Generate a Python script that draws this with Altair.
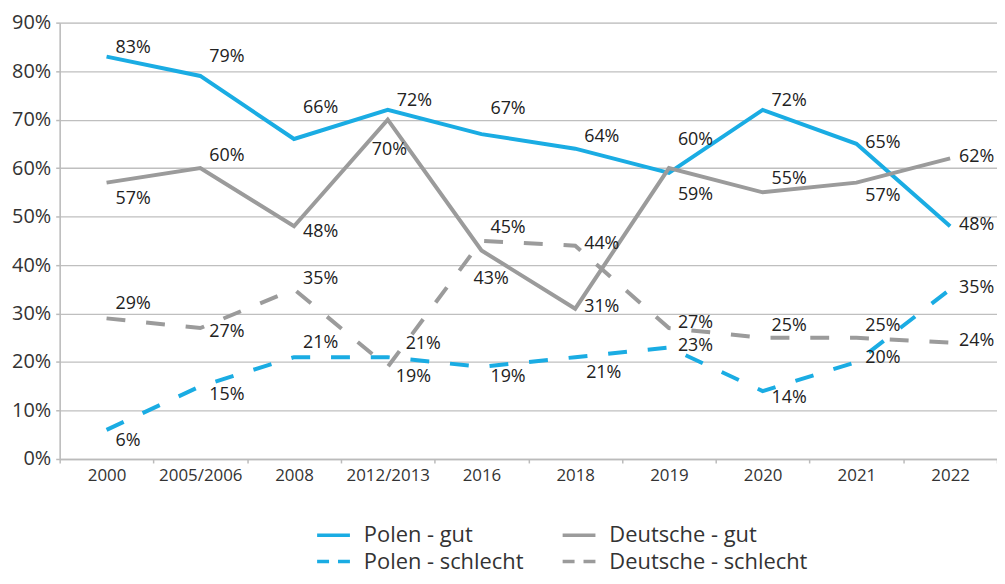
import altair as alt
import pandas as pd

# ---- data ----
years = ["2000", "2005/2006", "2008", "2012/2013", "2016", "2018", "2019", "2020", "2021", "2022"]
series_names = ["Polen - gut", "Deutsche - gut", "Polen - schlecht", "Deutsche - schlecht"]
polen_gut = [83, 79, 66, 72, 67, 64, 59, 72, 65, 48]
deutsche_gut = [57, 60, 48, 70, 43, 31, 60, 55, 57, 62]
polen_schlecht = [6, 15, 21, 21, 19, 21, 23, 14, 20, 35]
deutsche_schlecht = [29, 27, 35, 19, 45, 44, 27, 25, 25, 24]
y_ticks = [0, 10, 20, 30, 40, 50, 60, 70, 80, 90]

# ---- label placement (pixel offsets from each point, styling only) ----
label_dx = {
    "Polen - gut":         [9, 9, 9, 9, 9, 9, 9, 9, 9, 9],
    "Deutsche - gut":      [9, 9, 9, -16, -8, 9, 9, 9, 9, 9],
    "Polen - schlecht":    [9, 9, 9, 18, 9, 11, 9, 9, 9, 9],
    "Deutsche - schlecht": [9, 9, 9, 8, 9, 9, 9, 9, 9, 9],
}
label_dy = {
    "Polen - gut":         [-9, -19, -31, -9, -25, -12, 22, -9, -1, -1],
    "Deutsche - gut":      [16, -12, 6, 31, 29, -2, -28, -13, 13, -1],
    "Polen - schlecht":    [11, 9, -14, -13, 10, 16, -1, 7, -4, -1],
    "Deutsche - schlecht": [-14, 4, -10, 10, -13, -2, -5, -12, -12, -2],
}

BLUE = "#1AACE3"
GRAY = "#9B9B9B"
FONT = "Open Sans"

values = {
    "Polen - gut": polen_gut,
    "Deutsche - gut": deutsche_gut,
    "Polen - schlecht": polen_schlecht,
    "Deutsche - schlecht": deutsche_schlecht,
}
rows = []
for s in series_names:
    for i, yr in enumerate(years):
        rows.append({
            "year": yr,
            "series": s,
            "value": values[s][i],
            "label": f"{values[s][i]}%",
            "dx": label_dx[s][i],
            "dy": label_dy[s][i],
        })
df = pd.DataFrame(rows)

gut = ["Polen - gut", "Deutsche - gut"]
schlecht = ["Polen - schlecht", "Deutsche - schlecht"]

x_enc = alt.X(
    "year:N",
    sort=years,
    scale=alt.Scale(type="band", domain=years, paddingInner=0, paddingOuter=0),
    axis=alt.Axis(
        title=None, labelAngle=0, tickBand="extent", grid=False,
        labelFont=FONT, labelFontSize=17, labelColor="#333333", labelPadding=5,
        domainColor="#BBBBBB", domainWidth=1.5, tickColor="#BBBBBB", tickSize=4, tickWidth=1.5,
    ),
)
y_enc = alt.Y(
    "value:Q",
    scale=alt.Scale(domain=[0, 90], nice=False, zero=True),
    axis=alt.Axis(
        title=None, values=y_ticks, labelExpr="datum.value + '%'",
        labelFont=FONT, labelFontSize=20, labelColor="#333333", labelPadding=5,
        grid=True, gridColor="#BFBFBF", gridWidth=1.3,
        domainColor="#BBBBBB", domainWidth=1.5, tickColor="#BBBBBB", tickSize=4, tickWidth=1.5,
    ),
)

base = alt.Chart(df)

legend_common = dict(
    orient="none", columns=2, direction="horizontal", title=None,
    symbolType="stroke", symbolSize=1089, symbolStrokeWidth=3.5,
    labelFont=FONT, labelFontSize=22, labelColor="#333333", labelOffset=12,
    rowPadding=0, padding=0, labelLimit=400,
)

solid = base.transform_filter(
    alt.FieldOneOfPredicate(field="series", oneOf=gut)
).mark_line(strokeWidth=4, strokeCap="butt", strokeJoin="miter").encode(
    x=x_enc,
    y=y_enc,
    color=alt.Color(
        "series:N",
        scale=alt.Scale(domain=gut, range=[BLUE, GRAY]),
        legend=alt.Legend(legendX=257, legendY=497, columnPadding=83, **legend_common),
    ),
)

dashed = base.transform_filter(
    alt.FieldOneOfPredicate(field="series", oneOf=schlecht)
).mark_line(strokeWidth=4, strokeCap="butt", strokeDash=[19, 21]).encode(
    x=x_enc,
    y=y_enc,
    color=alt.Color(
        "series:N",
        scale=alt.Scale(domain=schlecht, range=[BLUE, GRAY]),
        legend=alt.Legend(legendX=257, legendY=523.5, columnPadding=32,
                          symbolDash=[12, 9], **legend_common),
    ),
)

labels = base.mark_text(
    align="left", baseline="middle", font=FONT, fontSize=18, color="#222222",
    dx=alt.ExprRef("datum.dx"), dy=alt.ExprRef("datum.dy"),
).encode(
    x=x_enc,
    y=y_enc,
    text="label:N",
)

chart = alt.layer(solid, dashed, labels).resolve_scale(
    color="independent"
).properties(
    width=943,
    height=439,
    autosize=alt.AutoSizeParams(type="none"),
    padding={"left": 52, "top": 13, "right": 0, "bottom": 116},
).configure_view(stroke=None).configure(background="white")

chart.save("out.html", embed_options={"renderer": "svg", "actions": False})
